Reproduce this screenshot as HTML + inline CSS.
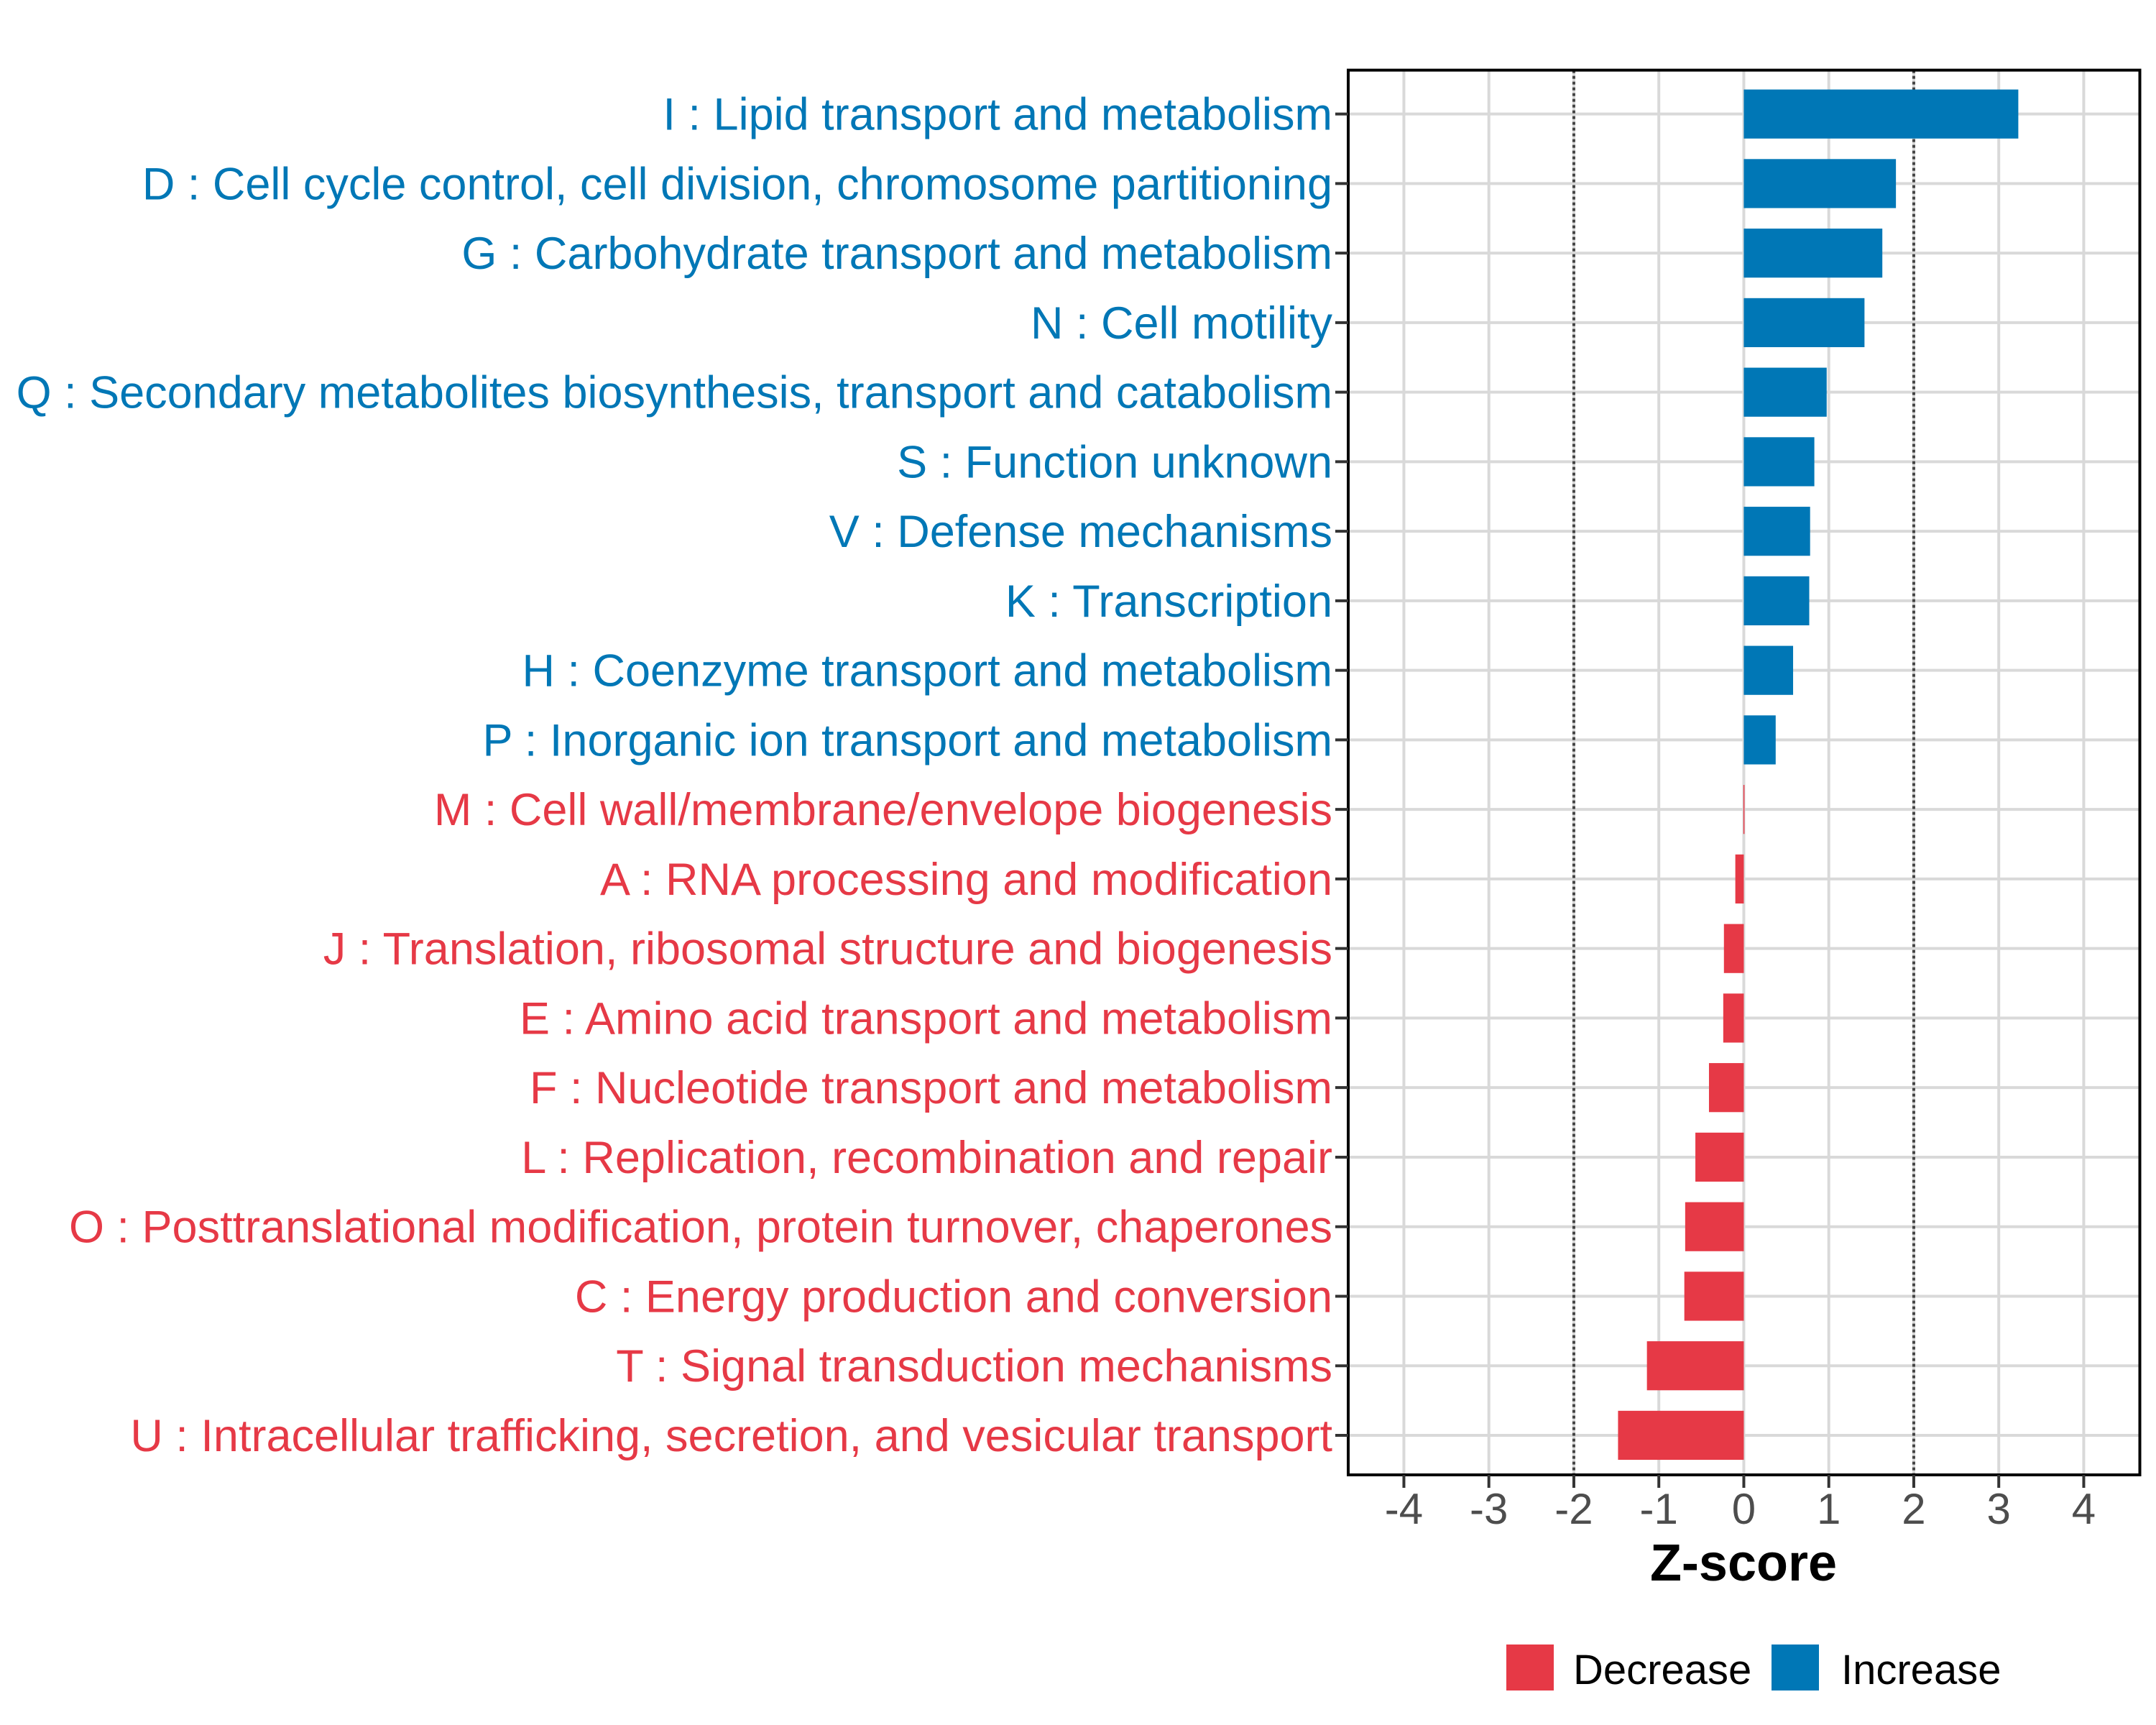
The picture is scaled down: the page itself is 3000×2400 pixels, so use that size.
<!DOCTYPE html>
<html><head><meta charset="utf-8">
<style>
html,body{margin:0;padding:0;background:#fff;}
svg{display:block;font-family:"Liberation Sans",Arial,sans-serif;}
</style></head>
<body>
<svg id="chart" width="3000" height="2400" viewBox="0 0 3000 2400" xmlns="http://www.w3.org/2000/svg">
<rect x="0" y="0" width="3000" height="2400" fill="#fff"/>
<g id="grid"></g>
<g id="bars"></g>
<g id="axes"></g>
<text x="2426" y="2199" text-anchor="middle" font-size="72" font-weight="bold" fill="#000">Z-score</text>
<g>
  <rect x="2096" y="2288" width="66" height="64" fill="#E63946"/>
  <text x="2189" y="2343" font-size="58" fill="#000">Decrease</text>
  <rect x="2465" y="2288" width="66" height="64" fill="#0077B6"/>
  <text x="2562" y="2343" font-size="58" fill="#000">Increase</text>
</g>
</svg>
<script>
const categories = [
 "I : Lipid transport and metabolism",
 "D : Cell cycle control, cell division, chromosome partitioning",
 "G : Carbohydrate transport and metabolism",
 "N : Cell motility",
 "Q : Secondary metabolites biosynthesis, transport and catabolism",
 "S : Function unknown",
 "V : Defense mechanisms",
 "K : Transcription",
 "H : Coenzyme transport and metabolism",
 "P : Inorganic ion transport and metabolism",
 "M : Cell wall/membrane/envelope biogenesis",
 "A : RNA processing and modification",
 "J : Translation, ribosomal structure and biogenesis",
 "E : Amino acid transport and metabolism",
 "F : Nucleotide transport and metabolism",
 "L : Replication, recombination and repair",
 "O : Posttranslational modification, protein turnover, chaperones",
 "C : Energy production and conversion",
 "T : Signal transduction mechanisms",
 "U : Intracellular trafficking, secretion, and vesicular transport"
];
const zscores = [3.23, 1.79, 1.63, 1.42, 0.975, 0.83, 0.78, 0.77, 0.58, 0.375, -0.005, -0.10, -0.234, -0.242, -0.41, -0.57, -0.69, -0.70, -1.14, -1.48];
const xTicks = [-4, -3, -2, -1, 0, 1, 2, 3, 4];
const xTickLabels = ["-4", "-3", "-2", "-1", "0", "1", "2", "3", "4"];
const refLines = [-2, 2];

const NS = "http://www.w3.org/2000/svg";
const P = {left: 1876, right: 2977.5, top: 97.6, bottom: 2052};
const xMin = -4.655, xMax = 4.66;
const n = categories.length;
const step = (P.bottom - P.top) / (n - 1 + 1.2);
function xs(v){ return P.left + (v - xMin) / (xMax - xMin) * (P.right - P.left); }
function ys(i){ return P.top + 3 + (0.6 + i) * step; }
const barH = step * 0.705;
const BLUE = "#0077B6", RED = "#E63946";

function mk(tag, attrs, parent){
  const e = document.createElementNS(NS, tag);
  for (const k in attrs) e.setAttribute(k, attrs[k]);
  parent.appendChild(e);
  return e;
}
const grid = document.getElementById('grid');
const bars = document.getElementById('bars');
const axes = document.getElementById('axes');

categories.forEach((c, i) => {
  const l = mk('line', {x1: P.left, x2: P.right, y1: ys(i), y2: ys(i), stroke: "#d9d9d9", "stroke-width": 4}, grid);
  
  
});
xTicks.forEach(t => {
  const l = mk('line', {x1: xs(t), x2: xs(t), y1: P.top, y2: P.bottom, stroke: "#d9d9d9", "stroke-width": 4}, grid);
  
  
});
refLines.forEach(r => {
  const l = mk('line', {x1: xs(r), x2: xs(r), y1: P.top, y2: P.bottom, stroke: "#444", "stroke-width": 4, "stroke-dasharray": "4 4"}, grid);
  
  
});
zscores.forEach((v, i) => {
  const x0 = xs(0), x1 = xs(v);
  const w = Math.max(Math.abs(x1 - x0), 1.5);
  const r = mk('rect', {x: Math.min(x0, x1), y: ys(i) - barH / 2, width: w, height: barH, fill: v > 0 ? BLUE : RED}, bars);
  
  
});
const b = mk('rect', {x: P.left, y: P.top, width: P.right - P.left, height: P.bottom - P.top, fill: "none", stroke: "#000", "stroke-width": 4}, axes);


categories.forEach((c, i) => {
  const t = mk('line', {x1: P.left - 18, x2: P.left, y1: ys(i), y2: ys(i), stroke: "#333", "stroke-width": 4}, axes);
  
  
  const tx = mk('text', {x: 1854, y: ys(i) + 22, "text-anchor": "end", "font-size": 63, fill: zscores[i] > 0 ? BLUE : RED}, axes);
  tx.textContent = c;
  
  
});
xTicks.forEach((t, k) => {
  const l = mk('line', {x1: xs(t), x2: xs(t), y1: P.bottom, y2: P.bottom + 18, stroke: "#333", "stroke-width": 4}, axes);
  
  
  const tx = mk('text', {x: xs(t), y: 2120, "text-anchor": "middle", "font-size": 60, fill: "#4d4d4d"}, axes);
  tx.textContent = xTickLabels[k];
  
  
});
</script>
</body></html>
